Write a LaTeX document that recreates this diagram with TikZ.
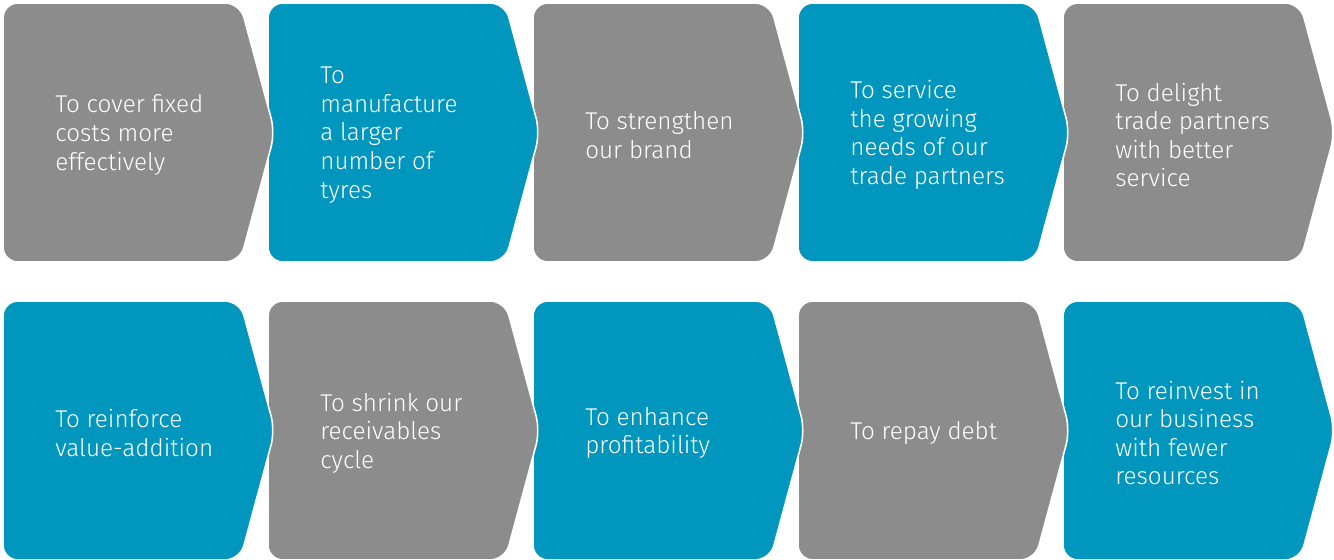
\documentclass[tikz,border=0pt]{standalone}
\usepackage{fontspec}
\setmainfont{Fira Sans Light}
\definecolor{boxgray}{RGB}{140,140,140}
\definecolor{boxblue}{RGB}{0,150,190}
\tikzset{
  chev/.style={draw=white, line width=0.9pt, rounded corners=0.3cm},
  txt/.style={text=white, align=left, inner sep=0pt, anchor=west,
    font=\fontsize{13.8}{16.3}\selectfont},
}
\newcommand\chevbox[5]{%
  \fill[chev, fill=#3] (#1,#2) -- ++(237,0) -- ++(35,129.5) -- ++(-35,129.5) -- ++(-237,0) -- cycle;
  \node[txt] (#4) at (#1+52,#2+132) {#5};
}
\begin{document}
\begin{tikzpicture}[x=0.02cm,y=-0.02cm]
\useasboundingbox (0,0) rectangle (1334,560);
% row 1 (drawn right to left so tips lie on top)
\chevbox{1063}{3}{boxgray}{a5}{To delight\\trade partners\\with better\\service}
\chevbox{798}{3}{boxblue}{a4}{To service\\the growing\\needs of our\\trade partners}
\chevbox{533}{3}{boxgray}{a3}{To strengthen\\our brand}
\chevbox{268}{3}{boxblue}{a2}{To\\manufacture\\a larger\\number of\\tyres}
\chevbox{3}{3}{boxgray}{a1}{To cover fixed\\costs more\\effectively}
% row 2
\chevbox{1063}{301}{boxblue}{b5}{To reinvest in\\our business\\with fewer\\resources}
\chevbox{798}{301}{boxgray}{b4}{To repay debt}
\chevbox{533}{301}{boxblue}{b3}{To enhance\\profitability}
\chevbox{268}{301}{boxgray}{b2}{To shrink our\\receivables\\cycle}
\chevbox{3}{301}{boxblue}{b1}{To reinforce\\value-addition}
\end{tikzpicture}
\end{document}
